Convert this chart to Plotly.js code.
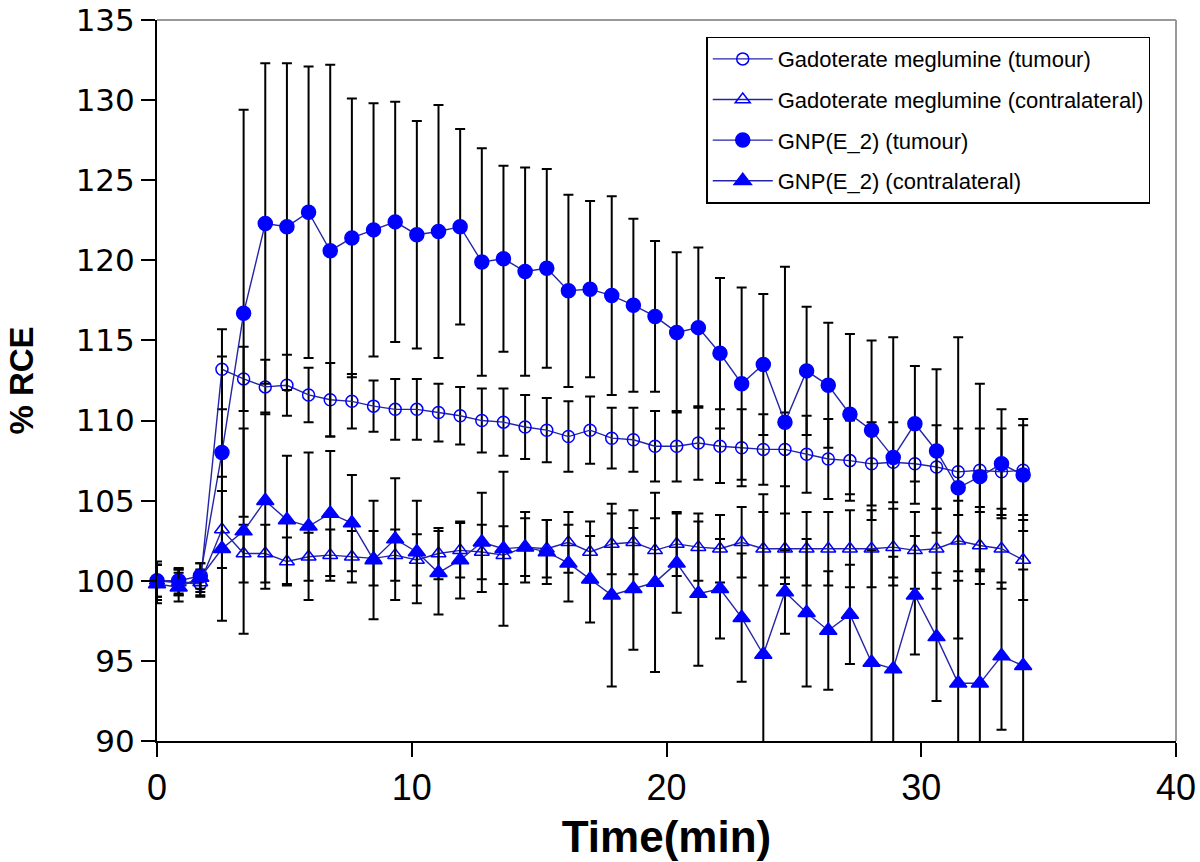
<!DOCTYPE html>
<html>
<head>
<meta charset="utf-8">
<script src="https://cdn.plot.ly/plotly-3.0.1.min.js"></script>
<style>html,body{margin:0;padding:0;background:#fff;}#chart{width:1200px;height:862px;}</style>
</head>
<body>
<div id="chart"></div>
<script>
// Time points (min)
const timeMin = [0, 0.85, 1.7, 2.55, 3.4, 4.25, 5.1, 5.95, 6.8, 7.65, 8.5, 9.35, 10.2, 11.05, 11.9, 12.75, 13.6, 14.45, 15.3, 16.15, 17, 17.85, 18.7, 19.55, 20.4, 21.25, 22.1, 22.95, 23.8, 24.65, 25.5, 26.35, 27.2, 28.05, 28.9, 29.75, 30.6, 31.45, 32.3, 33.15, 34];

const seriesNames = ["Gadoterate meglumine (tumour)", "Gadoterate meglumine (contralateral)", "GNP(E_2) (tumour)", "GNP(E_2) (contralateral)"];

const gadTumour = [100.0, 99.9, 99.8, 113.2, 112.6, 112.1, 112.2, 111.6, 111.3, 111.2, 110.9, 110.7, 110.7, 110.5, 110.3, 110.0, 109.9, 109.6, 109.4, 109.0, 109.4, 108.9, 108.8, 108.4, 108.4, 108.6, 108.4, 108.3, 108.2, 108.2, 107.9, 107.6, 107.5, 107.3, 107.4, 107.3, 107.1, 106.8, 106.9, 106.8, 106.9];
const gadTumourErr = [1.0, 0.8, 0.8, 2.5, 2.0, 1.7, 1.9, 1.7, 2.3, 1.7, 1.6, 1.9, 1.9, 1.8, 1.8, 2.0, 2.1, 2.0, 2.0, 2.2, 2.1, 1.9, 2.0, 2.2, 2.2, 2.3, 2.3, 2.4, 2.2, 2.3, 2.4, 2.5, 2.5, 2.6, 2.5, 2.5, 2.6, 2.7, 2.6, 2.7, 2.8];

const gadContra = [100.0, 99.9, 99.9, 103.2, 101.7, 101.7, 101.2, 101.5, 101.6, 101.5, 101.4, 101.6, 101.3, 101.7, 101.9, 101.8, 101.6, 102.1, 102.0, 102.4, 101.8, 102.3, 102.4, 101.9, 102.3, 102.1, 102.0, 102.4, 102.0, 102.0, 102.0, 102.0, 102.0, 102.0, 102.1, 101.9, 102.0, 102.5, 102.2, 102.0, 101.3];
const gadContraErr = [1.2, 0.8, 0.8, 2.4, 1.8, 1.8, 1.5, 1.5, 1.6, 1.6, 1.7, 1.6, 1.6, 1.6, 1.7, 1.7, 1.8, 1.8, 1.8, 1.9, 1.9, 1.9, 2.0, 2.0, 2.0, 2.1, 2.1, 2.2, 2.3, 2.2, 2.3, 2.3, 2.4, 2.4, 2.4, 2.4, 2.5, 2.5, 2.4, 2.5, 2.5];

const gnpTumour = [100.0, 100.0, 100.3, 108.0, 116.7, 122.3, 122.1, 123.0, 120.6, 121.4, 121.9, 122.4, 121.6, 121.8, 122.1, 119.9, 120.1, 119.3, 119.5, 118.1, 118.2, 117.8, 117.2, 116.5, 115.5, 115.8, 114.2, 112.3, 113.5, 109.9, 113.1, 112.2, 110.4, 109.4, 107.7, 109.8, 108.1, 105.8, 106.5, 107.3, 106.6];
const gnpTumourErr = [1.0, 0.8, 0.8, 6.0, 12.7, 10.0, 10.2, 9.1, 11.6, 8.7, 7.9, 7.5, 7.1, 7.9, 6.1, 7.1, 5.8, 6.5, 6.2, 6.0, 5.5, 6.2, 5.4, 4.7, 5.0, 5.0, 4.7, 6.0, 4.4, 9.7, 4.0, 3.9, 5.0, 5.6, 7.5, 3.6, 5.1, 9.4, 5.8, 3.4, 3.5];

const gnpContra = [99.8, 99.6, 100.2, 102.0, 103.1, 105.0, 103.8, 103.4, 104.2, 103.6, 101.3, 102.6, 101.8, 100.5, 101.3, 102.4, 102.0, 102.1, 101.8, 101.1, 100.1, 99.1, 99.5, 99.9, 101.1, 99.2, 99.5, 97.7, 95.4, 99.3, 98.0, 96.9, 97.9, 94.9, 94.5, 99.1, 96.5, 93.6, 93.6, 95.3, 94.7];
const gnpContraErr = [1.2, 0.9, 0.9, 4.5, 6.4, 5.5, 4.0, 4.6, 3.9, 3.0, 3.7, 3.8, 3.2, 2.6, 2.4, 3.1, 4.8, 2.2, 2.0, 2.4, 2.7, 5.7, 3.8, 5.6, 3.1, 4.5, 3.1, 4.0, 10.0, 2.6, 4.6, 3.7, 3.1, 7.0, 7.0, 3.7, 4.0, 7.0, 7.0, 4.6, 6.0];

const xTicks = [0, 10, 20, 30, 40];
const yTicks = [90, 95, 100, 105, 110, 115, 120, 125, 130, 135];

const markerBlue = '#0000ff';
const lineBlue = '#2424a8';

function errSpec(arr) {
  return {type: 'data', array: arr, visible: true, color: '#000000', thickness: 2, width: 5};
}

function makeTrace(name, y, err, symbol, size, group) {
  return {
    x: timeMin, y: y, name: name, type: 'scatter', mode: 'lines+markers',
    legendgroup: group,
    line: {color: lineBlue, width: 1.4},
    marker: {symbol: symbol, size: size, color: markerBlue, line: {color: markerBlue, width: 1.5}},
    error_y: errSpec(err),
    cliponaxis: false
  };
}

const traces = [
  makeTrace(seriesNames[0], gadTumour, gadTumourErr, 'circle-open', 12, 'a'),
  makeTrace(seriesNames[1], gadContra, gadContraErr, 'triangle-up-open', 13, 'b'),
  makeTrace(seriesNames[2], gnpTumour, gnpTumourErr, 'circle', 14, 'c'),
  makeTrace(seriesNames[3], gnpContra, gnpContraErr, 'triangle-up', 15, 'd')
];

const layout = {
  width: 1200, height: 862,
  margin: {l: 157, r: 24, t: 20, b: 121},
  paper_bgcolor: '#ffffff', plot_bgcolor: '#ffffff',
  showlegend: true,
  legend: {
    x: 0.539, y: 0.977, xanchor: 'left', yanchor: 'top',
    bordercolor: '#000000', borderwidth: 1.5, bgcolor: '#ffffff',
    font: {family: 'Liberation Sans, Arial, sans-serif', size: 22, color: '#000'},
    traceorder: 'grouped', tracegroupgap: 9,
    itemwidth: 60,
    itemsizing: 'trace'
  },
  xaxis: {
    range: [0, 40], tickvals: xTicks, ticktext: xTicks.map(String),
    showgrid: false, zeroline: false,
    showline: true, linecolor: '#000', linewidth: 2,
    ticks: 'outside', ticklen: 14, tickwidth: 2, tickcolor: '#000',
    ticklabeloverflow: 'allow',
    tickfont: {family: 'Liberation Sans, Arial, sans-serif', size: 36, color: '#000'},
    title: {text: 'Time(min)', standoff: 14,
      font: {family: 'Liberation Sans, Arial, sans-serif', size: 44, color: '#000', weight: 'bold'}}
  },
  yaxis: {
    range: [90, 135], tickvals: yTicks, ticktext: yTicks.map(String),
    showgrid: false, zeroline: false,
    showline: true, linecolor: '#000', linewidth: 2,
    ticks: 'outside', ticklen: 14, tickwidth: 2, tickcolor: '#000',
    ticklabeloverflow: 'allow',
    tickfont: {family: 'DejaVu Sans, sans-serif', size: 31, color: '#000'},
    title: {text: '% RCE', standoff: 32,
      font: {family: 'Liberation Sans, Arial, sans-serif', size: 33, color: '#000', weight: 'bold'}}
  },
  shapes: [
    {type: 'line', xref: 'paper', yref: 'paper', x0: 0, x1: 1, y0: 1, y1: 1, line: {color: '#999999', width: 2}},
    {type: 'line', xref: 'paper', yref: 'paper', x0: 1, x1: 1, y0: 0, y1: 1, line: {color: '#999999', width: 2}}
  ]
};

Plotly.newPlot('chart', traces, layout, {displayModeBar: false, staticPlot: true});
</script>
</body>
</html>
